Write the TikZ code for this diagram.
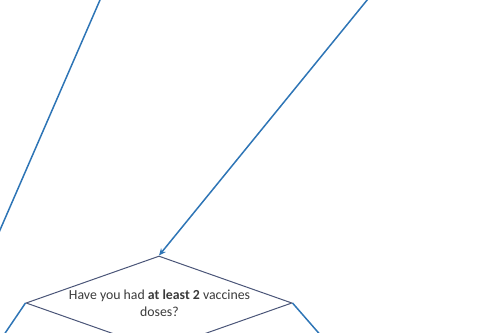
\documentclass[tikz,border=0pt]{standalone}
\usepackage{fontspec}
\setmainfont{Carlito}
\usetikzlibrary{shapes.geometric,arrows.meta}
\definecolor{lineblue}{HTML}{2E75B6}
\definecolor{dmdline}{HTML}{4A5578}
\definecolor{txt}{HTML}{3A3A3A}
\begin{document}
\begin{tikzpicture}[x=1pt,y=1pt,
  conn/.style={draw=lineblue,line width=1.5pt},
  decision/.style={diamond,draw=dmdline,line width=1pt,minimum width=266pt,minimum height=94pt,inner sep=0pt},
  lbl/.style={text=txt,font=\fontsize{13.8}{17}\selectfont,align=center,inner sep=0pt}]
\useasboundingbox (0,0) rectangle (481,332);
\clip (0,0) rectangle (481,332);
\node[decision] (d) at (159,29) {};
\node[lbl] (q) at (159.5,29) {Have you had \textbf{at least 2} vaccines\\doses?};
\coordinate (a0) at (369.6,335);
\coordinate (b0) at (101.3,335);
\coordinate (b1) at (-20,56);
\coordinate (l1) at (-5,-16);
\coordinate (r1) at (330,-14);
\draw[conn,-{Stealth[length=7pt,width=6pt]}] (a0) -- (d.north);
\draw[conn] (b0) -- (b1);
\draw[conn] (d.west) -- (l1);
\draw[conn] (d.east) -- (r1);
\end{tikzpicture}
\end{document}
